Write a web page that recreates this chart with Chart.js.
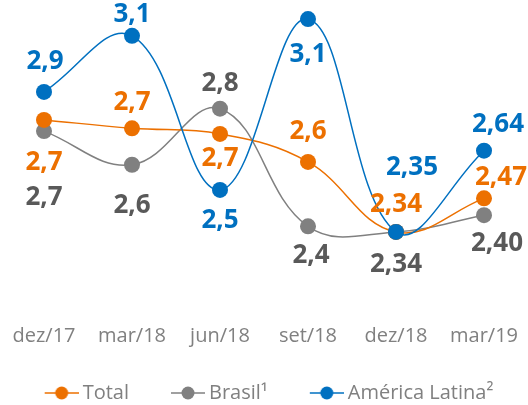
<!DOCTYPE html>
<html>
<head>
<meta charset="utf-8">
<script src="https://cdn.jsdelivr.net/npm/chart.js@4.4.0/dist/chart.umd.min.js"></script>
<style>
    html, body { margin: 0; padding: 0; background: #fff; }
    #wrap { width: 528px; height: 405px; }
</style>
</head>
<body>
<div id="wrap"><canvas id="myChart"></canvas></div>
<script>
// categories
const periods = ['dez/17', 'mar/18', 'jun/18', 'set/18', 'dez/18', 'mar/19'];
const seriesNames = ['Total', 'Brasil¹', 'América Latina²'];

// plotted levels (as drawn in the picture, not to scale with the labels)
const totalValues = [2.74, 2.71, 2.69, 2.59, 2.34, 2.46];
const brasilValues = [2.70, 2.58, 2.78, 2.36, 2.34, 2.40];
const latamValues = [2.84, 3.04, 2.49, 3.10, 2.34, 2.63];

// printed values
const totalLabels = ['2,7', '2,7', '2,7', '2,6', '2,34', '2,47'];
const brasilLabels = ['2,7', '2,6', '2,8', '2,4', '2,34', '2,40'];
const latamLabels = ['2,9', '3,1', '2,5', '3,1', '2,35', '2,64'];

const orange = '#EC7000';
const grey = '#808080';
const greyText = '#595959';
const blue = '#0070C0';

Chart.defaults.font.family = '"Open Sans"';

// where each value label sits relative to its point
const totalOffsets = [[0, 43], [0, -26], [0, 25], [0, -30], [0, -27], [17, -21]];
const brasilOffsets = [[0, 66], [0, 41], [0, -25], [3, 29], [0, 33], [13, 28]];
const latamOffsets = [[1, -30], [0, -21], [0, 31], [0, 36], [16, -64], [14, -26]];

// line + dot marker for the legend (drawn right of centre on purpose)
function legendMarker(color) {
    const c = document.createElement('canvas');
    c.width = 50; c.height = 16;
    const g = c.getContext('2d');
    g.strokeStyle = color; g.lineWidth = 1.5;
    g.beginPath(); g.moveTo(16, 8); g.lineTo(50, 8); g.stroke();
    g.fillStyle = color;
    g.beginPath(); g.arc(33, 8, 6.5, 0, Math.PI * 2); g.fill();
    return c;
}
const markers = [legendMarker(orange), legendMarker(grey), legendMarker(blue)];

const valueLabels = {
    id: 'valueLabels',
    afterDatasetsDraw(chart) {
        const ctx = chart.ctx;
        ctx.save();
        ctx.font = 'bold 26px "Open Sans"';
        ctx.textAlign = 'center';
        ctx.textBaseline = 'middle';
        chart.data.datasets.forEach((ds, i) => {
            const meta = chart.getDatasetMeta(i);
            meta.data.forEach((pt, j) => {
                const off = ds.labelOffsets[j];
                ctx.fillStyle = ds.labelColor;
                ctx.fillText(ds.valueLabels[j], pt.x + off[0], pt.y + off[1]);
            });
        });
        ctx.restore();
    }
};

const ctx = document.getElementById('myChart');
new Chart(ctx, {
    type: 'line',
    data: {
        labels: periods,
        datasets: [{
            label: seriesNames[0],
            data: totalValues,
            valueLabels: totalLabels,
            labelOffsets: totalOffsets,
            labelColor: orange,
            borderColor: orange,
            backgroundColor: orange,
            order: 2
        }, {
            label: seriesNames[1],
            data: brasilValues,
            valueLabels: brasilLabels,
            labelOffsets: brasilOffsets,
            labelColor: greyText,
            borderColor: grey,
            backgroundColor: grey,
            order: 3
        }, {
            label: seriesNames[2],
            data: latamValues,
            valueLabels: latamLabels,
            labelOffsets: latamOffsets,
            labelColor: blue,
            borderColor: blue,
            backgroundColor: blue,
            order: 1
        }]
    },
    options: {
        responsive: true,
        maintainAspectRatio: false,
        animation: false,
        clip: false,
        layout: { autoPadding: false, padding: { top: 0, left: 0, right: 0, bottom: -8 } },
        elements: {
            line: { tension: 0.4, borderWidth: 1.5, fill: false },
            point: { radius: 8, borderWidth: 0, hoverRadius: 8 }
        },
        scales: {
            x: {
                offset: true,
                grid: { display: false, drawTicks: false },
                border: { display: false },
                ticks: { color: grey, padding: 1, font: { size: 20 } },
                afterFit(scale) { scale.height = 28; }
            },
            y: {
                display: false,
                min: 2.015,
                max: 3.168
            }
        },
        plugins: {
            tooltip: { enabled: false },
            legend: {
                display: true,
                position: 'bottom',
                labels: {
                    usePointStyle: true,
                    pointStyleWidth: 38,
                    padding: 32,
                    color: grey,
                    font: { size: 20 },
                    sort: (a, b) => a.datasetIndex - b.datasetIndex,
                    generateLabels(chart) {
                        const items = Chart.defaults.plugins.legend.labels.generateLabels(chart);
                        items.forEach(item => {
                            item.pointStyle = markers[item.datasetIndex];
                            item.fontColor = grey;
                        });
                        return items;
                    }
                }
            }
        }
    },
    plugins: [valueLabels]
});
</script>
</body>
</html>
